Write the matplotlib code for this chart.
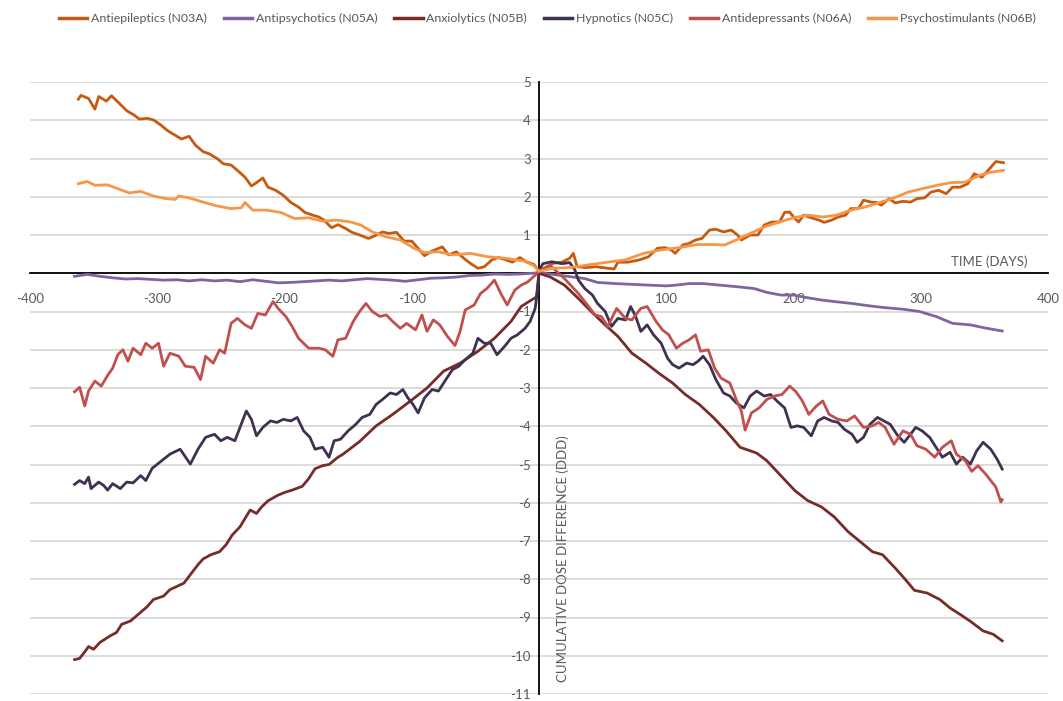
import matplotlib
matplotlib.use("Agg")
import matplotlib.pyplot as plt

# ---------------- data ----------------
series_names = ["Antiepileptics (N03A)", "Antipsychotics (N05A)", "Anxiolytics (N05B)",
                "Hypnotics (N05C)", "Antidepressants (N06A)", "Psychostimulants (N06B)"]
series_colors = ["#C55A11", "#8064A2", "#772C2A", "#403151", "#C0504D", "#F79646"]

n03a_days = [-362, -360, -354, -349, -346, -340, -336, -331, -324, -318, -314, -308, -303, -297, -292, -286,
             -281, -275, -270, -264, -259, -253, -248, -242, -237, -231, -226, -222, -217, -213, -207, -201,
             -195, -189, -184, -178, -173, -169, -163, -158, -152, -147, -141, -134, -129, -123, -118, -112,
             -106, -100, -94, -90, -84, -76, -71, -65, -59, -54, -48, -43, -37, -32, -26, -21, -15, -10, -4, 0,
             6, 11, 18, 24, 27, 30, 37, 45, 54, 59, 62, 70, 79, 86, 93, 99, 104, 107, 113, 118, 123, 128, 134,
             139, 145, 151, 156, 159, 166, 172, 177, 183, 189, 193, 197, 201, 204, 208, 214, 220, 224, 230, 235,
             241, 245, 251, 255, 261, 265, 269, 275, 280, 286, 292, 297, 303, 308, 314, 320, 325, 331, 337, 342,
             348, 354, 359, 365]
n03a_vals = [4.55, 4.65, 4.57, 4.29, 4.62, 4.50, 4.64, 4.48, 4.25, 4.13, 4.03, 4.05, 4.01, 3.87, 3.73, 3.61,
             3.51, 3.58, 3.35, 3.18, 3.12, 3.00, 2.86, 2.83, 2.69, 2.51, 2.28, 2.37, 2.49, 2.25, 2.17, 2.04,
             1.85, 1.73, 1.59, 1.52, 1.47, 1.39, 1.19, 1.27, 1.17, 1.07, 1.00, 0.91, 0.98, 1.08, 1.04, 1.07,
             0.84, 0.84, 0.61, 0.46, 0.58, 0.69, 0.48, 0.56, 0.39, 0.26, 0.13, 0.17, 0.35, 0.41, 0.35, 0.29,
             0.41, 0.30, 0.23, 0.05,
             0.17, 0.26, 0.29, 0.39, 0.52, 0.17, 0.15, 0.17, 0.13, 0.11, 0.29, 0.29, 0.35, 0.43, 0.65, 0.67,
             0.61, 0.52, 0.74, 0.78, 0.87, 0.91, 1.13, 1.15, 1.08, 1.13, 1.00, 0.87, 1.00, 1.00, 1.26, 1.34,
             1.34, 1.59, 1.60, 1.43, 1.34, 1.52, 1.45, 1.39, 1.33, 1.39, 1.47, 1.52, 1.69, 1.69, 1.91, 1.86,
             1.85, 1.78, 1.95, 1.84, 1.88, 1.86, 1.95, 1.97, 2.12, 2.17, 2.08, 2.25, 2.25, 2.34, 2.60, 2.51,
             2.73, 2.92, 2.89]

n05a_days = [-365, -355, -345, -335, -325, -315, -305, -295, -285, -275, -265, -255, -245, -235, -225, -215,
             -205, -195, -185, -175, -165, -155, -145, -135, -125, -115, -105, -95, -85, -75, -65, -55, -45,
             -35, -25, -15, -5, 0, 4, 20, 36, 46, 60, 73, 86, 100, 108, 118, 129, 142, 155, 169, 179, 190, 200,
             211, 222, 232, 246, 259, 272, 286, 299, 312, 325, 339, 352, 364]
n05a_vals = [-0.08, -0.03, -0.08, -0.12, -0.15, -0.14, -0.16, -0.18, -0.17, -0.20, -0.17, -0.20, -0.18,
             -0.22, -0.17, -0.21, -0.25, -0.24, -0.22, -0.20, -0.18, -0.20, -0.17, -0.14, -0.16, -0.18, -0.21,
             -0.17, -0.13, -0.12, -0.10, -0.06, -0.05, -0.02, -0.03, -0.02, 0.00, 0.02,
             0.00, -0.07, -0.14, -0.24, -0.27, -0.29, -0.31, -0.33, -0.31, -0.27, -0.27, -0.31, -0.35, -0.40,
             -0.50, -0.57, -0.57, -0.64, -0.70, -0.74, -0.79, -0.85, -0.90, -0.94, -1.00, -1.13, -1.31, -1.35,
             -1.44, -1.51]

n05b_days = [-365, -361, -357, -354, -350, -345, -337, -332, -328, -321, -315, -308, -303, -295, -290, -284,
             -279, -274, -268, -264, -258, -251, -246, -241, -235, -231, -227, -222, -218, -213, -205, -199,
             -194, -186, -181, -176, -170, -165, -158, -154, -141, -128, -115, -101, -88, -75, -62, -48, -35,
             -22, -14, -6, -2, 0,
             9, 20, 31, 41, 52, 62, 73, 84, 94, 105, 115, 126, 137, 147, 158, 171, 179, 190, 201, 211, 222, 232,
             243, 254, 262, 270, 280, 288, 295, 305, 315, 323, 331, 339, 349, 357, 364]
n05b_vals = [-10.10, -10.07, -9.90, -9.76, -9.83, -9.65, -9.48, -9.39, -9.18, -9.09, -8.92, -8.72, -8.53,
             -8.44, -8.27, -8.18, -8.10, -7.88, -7.62, -7.47, -7.36, -7.28, -7.10, -6.84, -6.63, -6.41, -6.19,
             -6.28, -6.11, -5.95, -5.80, -5.72, -5.67, -5.57, -5.37, -5.11, -5.03, -5.00, -4.81, -4.73, -4.40,
             -3.99, -3.69, -3.34, -3.00, -2.56, -2.35, -2.04, -1.70, -1.26, -0.87, -0.70, -0.62, 0.00,
             -0.10, -0.31, -0.66, -1.00, -1.35, -1.65, -2.09, -2.35, -2.61, -2.87, -3.17, -3.43, -3.77, -4.12,
             -4.55, -4.70, -4.90, -5.29, -5.68, -5.94, -6.11, -6.37, -6.76, -7.06, -7.28, -7.36, -7.71, -8.01,
             -8.29, -8.36, -8.53, -8.75, -8.92, -9.10, -9.35, -9.44, -9.61]

n05c_days = [-365, -361, -357, -354, -352, -346, -342, -339, -335, -329, -324, -319, -313, -309, -304, -290,
             -282, -274, -268, -262, -255, -250, -245, -239, -234, -230, -226, -222, -217, -211, -206, -201,
             -195, -190, -185, -180, -176, -170, -165, -161, -156, -150, -144, -139, -133, -128, -123, -117,
             -112, -107, -103, -99, -95, -90, -84, -79, -74, -68, -63, -58, -52, -48, -43, -38, -33, -27, -22,
             -17, -11, -7, -3, -1, 0,
             3, 10, 18, 24, 28, 31, 36, 42, 46, 52, 57, 62, 68, 72, 76, 80, 85, 90, 96, 101, 105, 110, 116, 121,
             125, 129, 134, 139, 145, 150, 155, 161, 166, 171, 177, 182, 187, 193, 198, 203, 208, 214, 219, 224,
             230, 235, 240, 246, 250, 255, 260, 266, 271, 276, 282, 287, 292, 296, 301, 307, 312, 317, 323, 328,
             333, 339, 344, 349, 355, 360, 364]
n05c_vals = [-5.52, -5.42, -5.50, -5.33, -5.63, -5.46, -5.55, -5.67, -5.50, -5.63, -5.46, -5.48, -5.29,
             -5.42, -5.10, -4.73, -4.60, -4.99, -4.60, -4.29, -4.21, -4.38, -4.29, -4.38, -3.95, -3.60, -3.82,
             -4.25, -4.03, -3.86, -3.90, -3.82, -3.86, -3.77, -4.12, -4.29, -4.60, -4.55, -4.81, -4.38, -4.34,
             -4.12, -3.95, -3.77, -3.69, -3.43, -3.30, -3.13, -3.17, -3.04, -3.26, -3.43, -3.65, -3.26, -3.04,
             -3.08, -2.82, -2.52, -2.43, -2.26, -2.09, -1.70, -1.83, -1.83, -2.13, -1.91, -1.70, -1.61, -1.44,
             -1.26, -0.92, -0.40, 0.05,
             0.25, 0.30, 0.25, 0.28, 0.10, -0.18, -0.40, -0.57, -0.79, -1.00, -1.39, -1.18, -1.22, -0.87, -1.13,
             -1.52, -1.35, -1.61, -1.83, -2.22, -2.39, -2.48, -2.35, -2.39, -2.30, -2.17, -2.39, -2.78, -3.13,
             -3.21, -3.39, -3.52, -3.21, -3.08, -3.21, -3.17, -3.34, -3.52, -4.03, -3.99, -4.03, -4.25, -3.86,
             -3.77, -3.86, -3.90, -4.08, -4.21, -4.42, -4.29, -3.95, -3.77, -3.86, -3.95, -4.25, -4.42, -4.21,
             -4.03, -4.12, -4.29, -4.55, -4.81, -4.68, -4.99, -4.81, -4.99, -4.64, -4.42, -4.60, -4.86, -5.12]

n06a_days = [-365, -361, -357, -354, -349, -344, -339, -335, -331, -327, -323, -319, -313, -309, -304, -299,
             -295, -290, -283, -278, -271, -266, -262, -256, -251, -247, -242, -237, -231, -226, -221, -215,
             -209, -205, -199, -194, -189, -181, -173, -168, -162, -158, -152, -146, -141, -136, -131, -125,
             -120, -115, -109, -104, -97, -92, -88, -83, -78, -72, -66, -62, -58, -51, -46, -41, -35, -30, -25,
             -19, -14, -9, -3, 0,
             9, 20, 31, 39, 44, 49, 54, 61, 68, 73, 80, 85, 92, 97, 102, 108, 113, 118, 123, 127, 133, 138, 143,
             150, 155, 159, 162, 167, 173, 179, 185, 191, 197, 202, 207, 212, 218, 223, 228, 235, 242, 248, 255,
             262, 267, 272, 279, 286, 292, 297, 304, 311, 317, 324, 328, 335, 340, 345, 351, 355, 359, 363, 364]
n06a_vals = [-3.10, -2.98, -3.47, -3.08, -2.82, -2.95, -2.67, -2.48, -2.13, -2.00, -2.30, -1.96, -2.13,
             -1.83, -1.96, -1.83, -2.43, -2.09, -2.17, -2.43, -2.46, -2.78, -2.17, -2.35, -2.00, -2.09, -1.31,
             -1.18, -1.35, -1.44, -1.05, -1.09, -0.74, -0.92, -1.13, -1.39, -1.70, -1.96, -1.96, -2.00, -2.17,
             -1.74, -1.70, -1.26, -1.00, -0.79, -1.00, -1.13, -1.09, -1.26, -1.44, -1.31, -1.48, -1.09, -1.52,
             -1.22, -1.35, -1.65, -1.89, -1.52, -0.96, -0.83, -0.53, -0.40, -0.18, -0.53, -0.83, -0.44, -0.31,
             -0.23, -0.05, 0.05,
             0.20, -0.14, -0.53, -0.87, -1.09, -1.13, -1.39, -0.92, -1.18, -1.22, -0.92, -0.87, -1.26, -1.48,
             -1.61, -1.96, -1.83, -1.74, -1.61, -2.04, -2.00, -2.48, -2.74, -2.87, -3.30, -3.60, -4.10, -3.65,
             -3.52, -3.30, -3.21, -3.17, -2.95, -3.10, -3.34, -3.69, -3.47, -3.34, -3.69, -3.82, -3.86, -3.73,
             -4.03, -3.99, -3.90, -4.03, -4.47, -4.12, -4.21, -4.51, -4.60, -4.81, -4.55, -4.38, -4.73, -4.90,
             -5.18, -5.03, -5.25, -5.42, -5.59, -5.98, -5.92]

n06b_days = [-362, -355, -349, -339, -331, -322, -313, -303, -293, -286, -283, -275, -264, -253, -242, -234,
             -231, -225, -214, -203, -192, -181, -170, -159, -148, -140, -131, -120, -109, -98, -90, -79, -68,
             -54, -40, -26, -12, -4, 0,
             11, 25, 39, 54, 68, 82, 96, 110, 124, 138, 146, 155, 166, 177, 189, 200, 211, 223, 234, 245, 256,
             268, 279, 290, 301, 313, 324, 335, 346, 355, 365]
n06b_vals = [2.34, 2.40, 2.30, 2.31, 2.21, 2.10, 2.14, 2.02, 1.95, 1.93, 2.02, 1.97, 1.86, 1.76, 1.69, 1.71,
             1.85, 1.65, 1.65, 1.59, 1.43, 1.45, 1.36, 1.39, 1.34, 1.26, 1.08, 0.95, 0.87, 0.65, 0.54, 0.56,
             0.48, 0.52, 0.43, 0.39, 0.32, 0.20, 0.05,
             0.13, 0.15, 0.22, 0.29, 0.35, 0.52, 0.61, 0.67, 0.75, 0.75, 0.74, 0.87, 1.04, 1.21, 1.34, 1.45,
             1.52, 1.47, 1.52, 1.65, 1.73, 1.85, 1.97, 2.12, 2.21, 2.30, 2.37, 2.38, 2.56, 2.64, 2.69]

x_ticks = [-400, -300, -200, -100, 100, 200, 300, 400]
y_ticks = [5, 4, 3, 2, 1, -1, -2, -3, -4, -5, -6, -7, -8, -9, -10, -11]
x_title = "TIME (DAYS)"
y_title = "CUMULATIVE DOSE DIFFERENCE (DDD)"

all_days = [n03a_days, n05a_days, n05b_days, n05c_days, n06a_days, n06b_days]
all_vals = [n03a_vals, n05a_vals, n05b_vals, n05c_vals, n06a_vals, n06b_vals]

# ---------------- plot ----------------
plt.rcParams['font.family'] = ['Lato', 'DejaVu Sans']
txt_color = "#595959"

fig = plt.figure(figsize=(10.63, 7.01), dpi=100)
ax = fig.add_axes([30 / 1063, 1 - 694 / 701, 1018 / 1063, (694 - 82) / 701])

for ytk in y_ticks + [0]:
    ax.axhline(ytk, color="#D9D9D9", lw=1.3, zorder=0)

for name, col, d, v in zip(series_names, series_colors, all_days, all_vals):
    ax.plot(d, v, color=col, lw=2.0, label=name, solid_joinstyle='round', zorder=3)

ax.set_xlim(-400, 400)
ax.set_ylim(-11, 5)

for s in ['top', 'right']:
    ax.spines[s].set_visible(False)
ax.spines['left'].set_position(('data', 0))
ax.spines['bottom'].set_position(('data', 0))
for s in ['left', 'bottom']:
    ax.spines[s].set_color("#000000")
    ax.spines[s].set_linewidth(1.3)
    ax.spines[s].set_zorder(2)

ax.set_xticks(x_ticks)
ax.set_xticklabels([str(t) for t in x_ticks])
ax.set_yticks(y_ticks)
ax.set_yticklabels([str(t) for t in y_ticks])
ax.tick_params(axis='x', length=0, pad=14, labelsize=9.5, labelcolor=txt_color)
ax.tick_params(axis='y', length=0, pad=6, labelsize=9.5, labelcolor=txt_color)

ax.text(354, 0.3, x_title, ha='center', va='center', fontsize=9.5, color=txt_color)
ax.text(19, -7.45, y_title, ha='center', va='center', rotation=90, fontsize=9.5, color=txt_color)

leg = fig.legend(loc='upper center', bbox_to_anchor=(0.515, 0.997), ncol=6, frameon=False,
                 fontsize=8.9, handlelength=2.3, handletextpad=0.3, columnspacing=1.35,
                 labelcolor=txt_color, borderaxespad=0.5)
for line in leg.get_lines():
    line.set_linewidth(2.5)

fig.savefig("out.png", dpi=100)
